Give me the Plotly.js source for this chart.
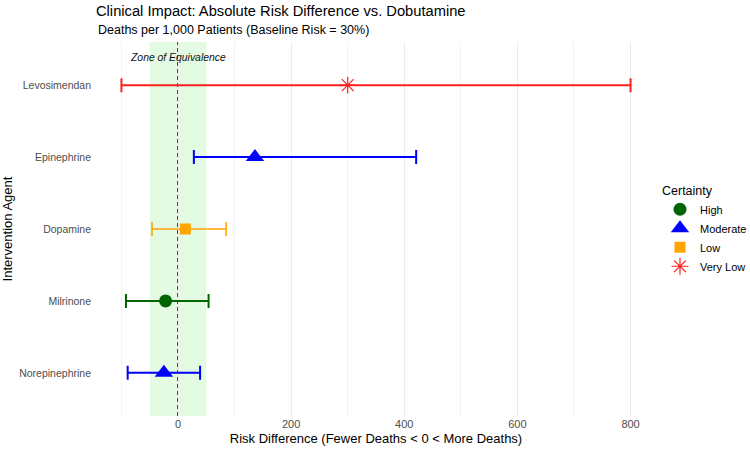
<!DOCTYPE html>
<html>
<head>
<meta charset="utf-8">
<script src="https://cdn.plot.ly/plotly-3.0.1.min.js"></script>
<style>html,body{margin:0;padding:0;background:#fff;}#chart{width:750px;height:450px;}</style>
</head>
<body>
<div id="chart"></div>
<script>
// Data
const agents    = ['Levosimendan', 'Epinephrine', 'Dopamine', 'Milrinone', 'Norepinephrine'];
const estimates = [300, 136, 13, -22, -25];
const lower     = [-100, 28, -46, -92, -89];
const upper     = [800, 421, 85, 54, 39];
const certainty = ['Very Low', 'Moderate', 'Low', 'High', 'Moderate'];
const levels    = ['High', 'Moderate', 'Low', 'Very Low'];
const axisOrder = ['Norepinephrine', 'Milrinone', 'Dopamine', 'Epinephrine', 'Levosimendan'];
const xTicks    = [0, 200, 400, 600, 800];

const styles = {
  'High':     {color: '#006400', symbol: 'circle',        size: 13, thick: 2},
  'Moderate': {color: '#0000ff', symbol: 'triangle-up',   size: 16, thick: 2},
  'Low':      {color: '#ffa500', symbol: 'square',        size: 11, thick: 1.6},
  'Very Low': {color: '#ff2020', symbol: 'asterisk-open', size: 14, thick: 2}
};

const traces = levels.map(lv => {
  const idx = agents.map((a, i) => i).filter(i => certainty[i] === lv);
  const st = styles[lv];
  return {
    type: 'scatter', mode: 'markers', name: lv,
    x: idx.map(i => estimates[i]),
    y: idx.map(i => agents[i]),
    error_x: {
      type: 'data', symmetric: false,
      array: idx.map(i => upper[i] - estimates[i]),
      arrayminus: idx.map(i => estimates[i] - lower[i]),
      color: st.color, thickness: st.thick, width: 7
    },
    marker: {color: st.color, symbol: st.symbol, size: st.size,
             line: {color: st.color, width: lv === 'Very Low' ? 1.2 : 0}},
    hoverinfo: 'x+y+name'
  };
});

const layout = {
  width: 750, height: 450,
  margin: {l: 96, r: 94, t: 42, b: 34},
  paper_bgcolor: '#fff', plot_bgcolor: '#fff',
  font: {family: 'Liberation Sans, Arial, sans-serif', color: '#000'},
  title: {text: 'Clinical Impact: Absolute Risk Difference vs. Dobutamine',
          x: 0, xref: 'paper', xanchor: 'left', y: 1 - 11 / 450, yref: 'container', yanchor: 'middle',
          font: {size: 14.7, color: '#000'}},
  annotations: [
    {text: 'Deaths per 1,000 Patients (Baseline Risk = 30%)', xref: 'paper', yref: 'paper',
     x: 0, y: 1.032, xanchor: 'left', yanchor: 'middle', showarrow: false,
     font: {size: 12.5, color: '#000'}},
    {text: '<i>Zone of Equivalence</i>', xref: 'x', yref: 'paper', x: 0, y: 0.958,
     xanchor: 'center', yanchor: 'middle', showarrow: false, font: {size: 10.4, color: '#111'}}
  ],
  shapes: [
    {type: 'rect', xref: 'x', yref: 'paper', x0: -50, x1: 50, y0: 0, y1: 1,
     fillcolor: '#e2fbe2', line: {width: 0}, layer: 'below'},
    {type: 'line', xref: 'x', yref: 'paper', x0: 0, x1: 0, y0: 0, y1: 1,
     line: {color: '#222', width: 1.6, dash: '4px,3px'}, layer: 'below'}
  ],
  xaxis: {
    range: [-145, 845], tickvals: xTicks, ticktext: xTicks.map(String),
    showgrid: true, gridcolor: '#ebebeb', gridwidth: 1, zeroline: false,
    showline: false, ticks: '', tickfont: {size: 11, color: '#4d4d4d'},
    minor: {tickvals: [-100, 100, 300, 500, 700], showgrid: true, gridcolor: '#f0f0f0', gridwidth: 0.8, ticks: ''},
    title: {text: 'Risk Difference (Fewer Deaths < 0 < More Deaths)', font: {size: 13, color: '#000'}, standoff: 4},
    automargin: false
  },
  yaxis: {
    type: 'category', categoryorder: 'array', categoryarray: axisOrder,
    range: [-0.6, 4.6], showgrid: false, zeroline: false, showline: false, ticks: '',
    tickfont: {size: 10.5, color: '#4d4d4d'}, ticklabelstandoff: 4,
    title: {text: 'Intervention Agent', font: {size: 13, color: '#000'}, standoff: 4},
    automargin: false
  },
  legend: {
    title: {text: 'Certainty', font: {size: 12.5, color: '#000'}},
    xref: 'container', yref: 'container',
    x: 660 / 750, xanchor: 'left', y: 1 - 230 / 450, yanchor: 'middle',
    font: {size: 11, color: '#000'}, tracegroupgap: 0
  },
  showlegend: true
};

Plotly.newPlot('chart', traces, layout, {staticPlot: true, displayModeBar: false});
</script>
</body>
</html>
